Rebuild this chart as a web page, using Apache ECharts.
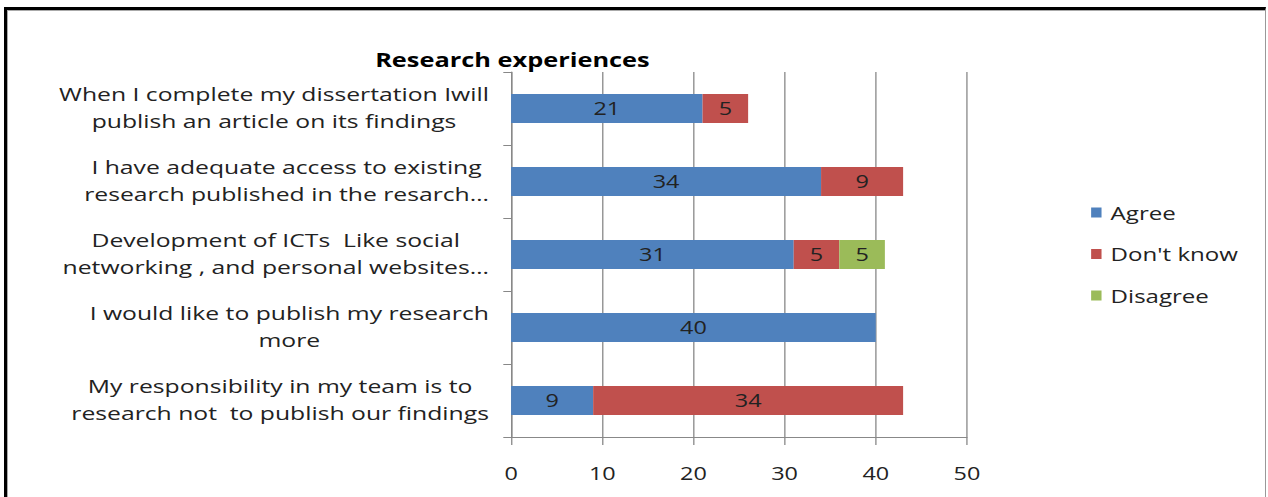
<!DOCTYPE html>
<html>
<head>
<meta charset="utf-8">
<script src="https://cdn.jsdelivr.net/npm/echarts@6/dist/echarts.min.js"></script>
<style>
  html, body { margin: 0; padding: 0; background: #fff; overflow: hidden; }
  /* The chart is laid out at a narrower width and widened horizontally,
     giving the broad, stretched lettering of the original export. */
  #chart {
    position: absolute; left: 0; top: 0; width: 975px; height: 497px;
    transform: scaleX(1.30051); transform-origin: 0 0;
  }
  #frame {
    position: absolute; left: 4px; top: 7px; width: 1258px; height: 500px;
    border-left: 3px solid #000; border-top: 3px solid #000; border-right: 1px solid #999;
    box-shadow: inset 1px 1px 0 #aaa; pointer-events: none;
  }
</style>
</head>
<body>
<div id="chart"></div>
<div id="frame"></div>
<script>
// Survey statements (top to bottom)
const categories = [
  'When I complete my dissertation Iwill\npublish an article on its findings',
  'I have adequate access to existing\nresearch published in the resarch\u2026',
  'Development of ICTs  Like social\nnetworking , and personal websites\u2026',
  'I would like to publish my research\nmore',
  'My responsibility in my team is to\nresearch not  to publish our findings'
];
const agree = [21, 34, 31, 40, 9];
const dontKnow = [5, 9, 5, null, 34];
const disagree = [null, null, 5, null, null];
const xTicks = [0, 10, 20, 30, 40, 50];

const FONT = 'Open Sans';
const chart = echarts.init(document.getElementById('chart'), null, { renderer: 'svg' });

const barLabel = {
  show: true, position: 'inside', color: '#222',
  fontFamily: FONT, fontSize: 18
};

function seriesOf(name, data, color) {
  return {
    name: name, type: 'bar', stack: 'total', data: data,
    barWidth: '40%', itemStyle: { color: color },
    label: barLabel
  };
}

chart.setOption({
  animation: false,
  textStyle: { fontFamily: FONT },
  title: {
    text: 'Research experiences', left: 389, top: 45, textAlign: 'center',
    textStyle: { fontFamily: FONT, fontSize: 19.5, fontWeight: 'bold', color: '#000' }
  },
  legend: {
    orient: 'vertical', left: 834, top: 198, itemGap: 22.5,
    itemWidth: 8, itemHeight: 10, icon: 'rect',
    data: ['Agree', "Don't know", 'Disagree'],
    textStyle: { fontFamily: FONT, fontSize: 18.5, color: '#222', padding: [0, 0, 0, 2] }
  },
  grid: { left: 393, right: 231.5, top: 72, bottom: 60 },
  xAxis: {
    type: 'value', min: xTicks[0], max: xTicks[xTicks.length - 1], interval: 10,
    axisLine: { show: true, lineStyle: { color: '#888' } },
    axisTick: { show: true, length: 8, lineStyle: { color: '#888' } },
    splitLine: { show: true, lineStyle: { color: '#888' } },
    axisLabel: { margin: 27, color: '#222', fontFamily: FONT, fontSize: 18 }
  },
  yAxis: {
    type: 'category', inverse: true, data: categories,
    axisLine: { show: true, lineStyle: { color: '#888' } },
    axisTick: { show: true, length: 6, lineStyle: { color: '#888' } },
    axisLabel: {
      margin: 17, color: '#222', fontFamily: FONT, fontSize: 19, lineHeight: 27,
      padding: [0, 0, 3, 0],
      formatter: function (v) {
        return v.split('\n').map(function (s) { return '{c|' + s + '}'; }).join('\n');
      },
      rich: { c: { align: 'center', fontFamily: FONT, fontSize: 19, color: '#222', lineHeight: 27 } }
    }
  },
  series: [
    seriesOf('Agree', agree, '#4F81BD'),
    seriesOf("Don't know", dontKnow, '#C0504D'),
    seriesOf('Disagree', disagree, '#9BBB59')
  ]
});
</script>
</body>
</html>
